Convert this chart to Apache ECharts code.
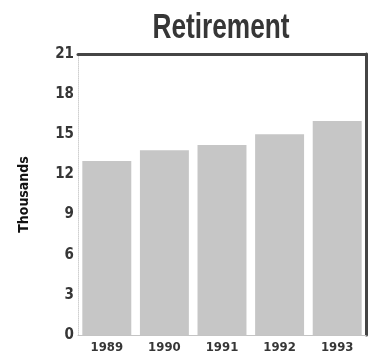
<!DOCTYPE html>
<html>
<head>
<meta charset="utf-8">
<script src="https://cdn.jsdelivr.net/npm/echarts@6/dist/echarts.min.js"></script>
<style>
  html, body { margin: 0; padding: 0; background: #fff; }
  #chart { width: 379px; height: 359px; }
</style>
</head>
<body>
<div id="chart"></div>
<script>
// Retirement totals by year, in thousands
const years = ['1989', '1990', '1991', '1992', '1993'];
const retirement = [13.0, 13.8, 14.2, 15.0, 16.0];
const yTicks = [0, 3, 6, 9, 12, 15, 18, 21];

const narrow = '"DejaVu Sans Condensed", "Liberation Sans Narrow", sans-serif';
const ink = '#363636';
const frame = '#454545';

const chart = echarts.init(document.getElementById('chart'));
chart.setOption({
  animation: false,
  backgroundColor: '#ffffff',
  graphic: [
    {
      // heading, squeezed horizontally for a condensed look
      type: 'text',
      x: 221,
      y: 28,
      scaleX: 0.75,
      style: {
        text: 'Retirement',
        font: 'bold 35px "Liberation Sans", sans-serif',
        fill: ink,
        textAlign: 'center',
        textVerticalAlign: 'middle'
      }
    }
  ],
  grid: { left: 78, right: 13, top: 54, bottom: 24 },
  xAxis: [
    {
      type: 'category',
      data: years,
      axisLine: { onZero: false, lineStyle: { color: '#c4c4c4', width: 1 } },
      axisTick: { show: false },
      axisLabel: { fontFamily: narrow, fontWeight: 'bold', fontSize: 13, color: ink, margin: 6 }
    },
    {
      type: 'category',
      position: 'top',
      data: years,
      axisLine: { onZero: false, lineStyle: { color: frame, width: 3 } },
      axisTick: { show: false },
      axisLabel: { show: false }
    }
  ],
  yAxis: [
    {
      type: 'value',
      min: yTicks[0],
      max: yTicks[yTicks.length - 1],
      interval: 3,
      name: 'Thousands',
      nameLocation: 'middle',
      nameRotate: 90,
      nameGap: 47,
      nameTextStyle: { fontFamily: narrow, fontWeight: 'bold', fontSize: 14, color: '#111' },
      axisLine: { show: true, onZero: false, lineStyle: { color: '#d0d0d0', width: 1, type: 'dotted' } },
      axisTick: { show: false },
      splitLine: { show: false },
      axisLabel: { fontFamily: narrow, fontWeight: 'bold', fontSize: 15, color: ink, margin: 4 }
    },
    {
      type: 'value',
      position: 'right',
      min: yTicks[0],
      max: yTicks[yTicks.length - 1],
      interval: 3,
      axisLine: { show: true, onZero: false, lineStyle: { color: frame, width: 3 } },
      axisTick: { show: false },
      splitLine: { show: false },
      axisLabel: { show: false }
    }
  ],
  series: [
    {
      type: 'bar',
      data: retirement,
      barCategoryGap: '15%',
      itemStyle: { color: '#c6c6c6' }
    }
  ]
});
</script>
</body>
</html>
